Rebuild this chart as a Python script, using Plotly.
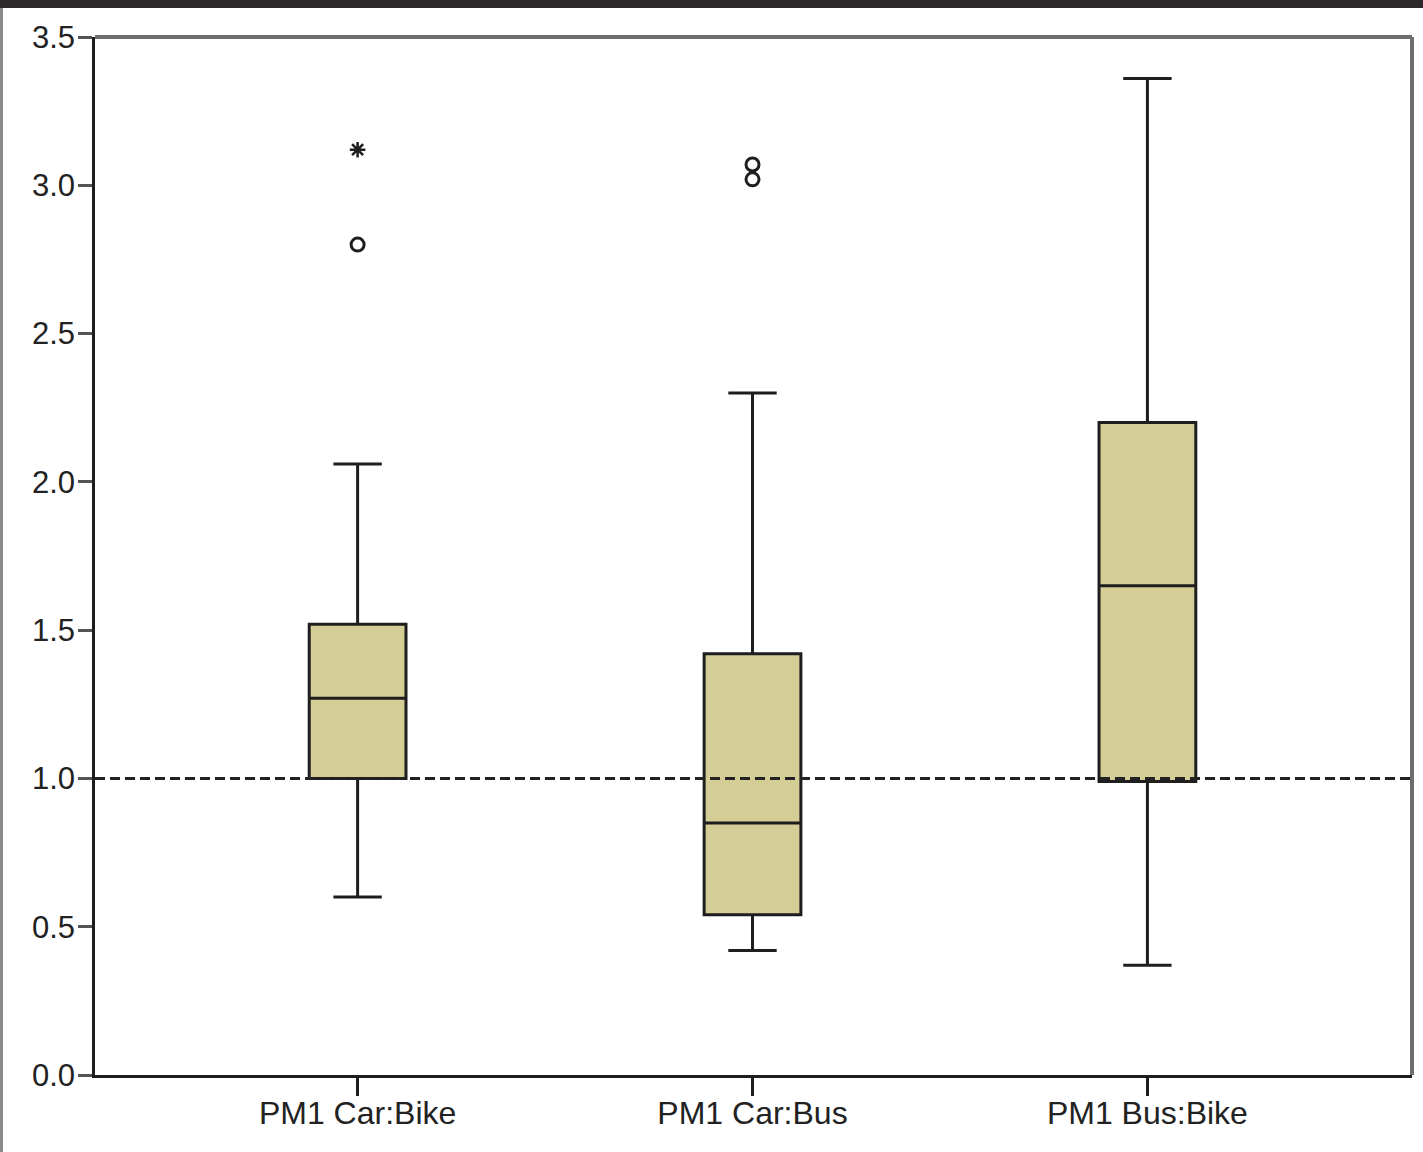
import plotly.graph_objects as go

# Ratio of PM1 exposure between transport modes
categories = ["PM1 Car:Bike", "PM1 Car:Bus", "PM1 Bus:Bike"]
q1 = [1.00, 0.54, 0.99]
median = [1.27, 0.85, 1.65]
q3 = [1.52, 1.42, 2.20]
lower_whisker = [0.60, 0.42, 0.37]
upper_whisker = [2.06, 2.30, 3.36]

# Mild outliers (circles) and extreme values (asterisks)
outlier_cat = [0, 1, 1]
outlier_val = [2.80, 3.07, 3.02]
extreme_cat = [0]
extreme_val = [3.12]

ytick_vals = [0.0, 0.5, 1.0, 1.5, 2.0, 2.5, 3.0, 3.5]
ytick_text = ["0.0", "0.5", "1.0", "1.5", "2.0", "2.5", "3.0", "3.5"]

xpos = list(range(len(categories)))

fig = go.Figure()

fig.add_trace(go.Box(
    x=xpos,
    q1=q1, median=median, q3=q3,
    lowerfence=lower_whisker, upperfence=upper_whisker,
    boxpoints=False,
    width=0.245,
    whiskerwidth=0.5,
    fillcolor="#d5cd96",
    line=dict(color="#1e1e1e", width=3),
    showlegend=False,
    hoverinfo="skip",
))

fig.add_trace(go.Scatter(
    x=[xpos[i] for i in outlier_cat], y=outlier_val,
    mode="markers",
    marker=dict(symbol="circle-open", size=13, color="#1e1e1e",
                line=dict(width=3, color="#1e1e1e")),
    showlegend=False,
))

fig.add_trace(go.Scatter(
    x=[xpos[i] for i in extreme_cat], y=extreme_val,
    mode="markers",
    marker=dict(symbol="asterisk-open", size=13, color="#1e1e1e",
                line=dict(width=2.5, color="#1e1e1e")),
    showlegend=False,
))

# Reference ratio of 1.0
fig.add_shape(type="line", xref="paper", x0=0, x1=1, yref="y", y0=1.0, y1=1.0,
              line=dict(color="#222222", width=3, dash="10px,5px"), layer="above")

# Grey frame on the top and right of the plotting area
fig.add_shape(type="line", xref="paper", yref="paper", x0=0, x1=1, y0=1, y1=1,
              line=dict(color="#6e6e6e", width=4))
fig.add_shape(type="line", xref="paper", yref="paper", x0=1, x1=1, y0=0, y1=1,
              line=dict(color="#6e6e6e", width=4))

# Dark border around the whole image (top and left)
fig.add_shape(type="rect", xref="paper", yref="paper",
              x0=-95 / 1317, x1=1 + 11 / 1038, y0=1 + 29 / 1038, y1=1 + 37 / 1038,
              fillcolor="#2e2a2b", line=dict(width=0))
fig.add_shape(type="rect", xref="paper", yref="paper",
              x0=-95 / 1317, x1=-92 / 1317, y0=-77 / 1038, y1=1 + 29 / 1038,
              fillcolor="#8a8a8a", line=dict(width=0))

fig.update_layout(
    width=1423, height=1152,
    margin=dict(l=95, r=11, t=37, b=77),
    paper_bgcolor="white", plot_bgcolor="white",
    font=dict(family="Liberation Sans, Arial, sans-serif", color="#222222"),
)

fig.update_xaxes(
    range=[-0.665, 2.67],
    tickmode="array", tickvals=xpos, ticktext=categories,
    ticks="outside", ticklen=18, tickwidth=2.5, tickcolor="#1e1e1e",
    tickfont=dict(size=32), ticklabelstandoff=-10,
    showline=True, linecolor="#1e1e1e", linewidth=2.5,
    showgrid=False, zeroline=False,
)
fig.update_yaxes(
    range=[0, 3.5],
    tickmode="array", tickvals=ytick_vals, ticktext=ytick_text,
    ticks="outside", ticklen=14, tickwidth=2.5, tickcolor="#555555",
    tickfont=dict(size=31), ticklabelstandoff=-3,
    showline=True, linecolor="#1e1e1e", linewidth=2.5,
    showgrid=False, zeroline=False,
)

fig.write_html("out.html")
